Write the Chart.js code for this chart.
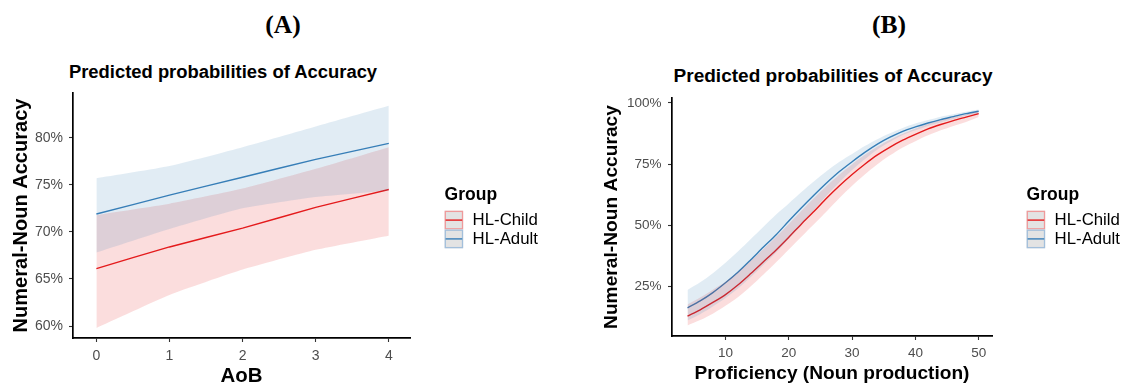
<!DOCTYPE html>
<html>
<head>
<meta charset="utf-8">
<script src="https://cdn.jsdelivr.net/npm/chart.js@4.4.1/dist/chart.umd.min.js"></script>
<style>
  html, body { margin: 0; padding: 0; background: #fff; }
  body { width: 1121px; height: 383px; overflow: hidden; position: relative; }
  canvas { position: absolute; top: 0; }
  .tag { position: absolute; font-family: 'Liberation Serif', 'Times New Roman', serif; font-weight: bold;
         line-height: 1; white-space: nowrap; transform: translate(-50%, -50%); color: #000; }
  .ttl { position: absolute; font-family: 'Liberation Sans', Arial, sans-serif; font-weight: bold;
         line-height: 1; white-space: nowrap; transform: translate(-50%, -50%); color: #000; }
</style>
</head>
<body>
<div class="tag" id="tagA" style="left:283px; top:25px; font-size:25.5px">(A)</div>
<div class="tag" id="tagB" style="left:889px; top:25px; font-size:25.5px">(B)</div>
<div class="ttl" id="titleA" style="left:223px; top:72px">Predicted probabilities of Accuracy</div>
<div class="ttl" id="titleB" style="left:833px; top:75.5px">Predicted probabilities of Accuracy</div>
<canvas id="chartA" width="560" height="400" style="left:0px"></canvas>
<canvas id="chartB" width="561" height="400" style="left:560px"></canvas>
<script>
// ---- Panel A: accuracy by AoB ----
const aobX = [0, 1, 2, 3, 4];
const childA   = [66.1, 68.4, 70.4, 72.6, 74.5];
const childALo = [59.8, 63.3, 66.0, 68.1, 69.6];
const childAHi = [71.8, 73.0, 74.6, 76.7, 79.0];
const adultA   = [71.9, 73.9, 75.8, 77.7, 79.4];
const adultALo = [67.8, 70.3, 72.5, 73.7, 74.4];
const adultAHi = [75.7, 77.0, 79.0, 81.2, 83.4];
const xTicksA = [0, 1, 2, 3, 4];
const yTicksA = [60, 65, 70, 75, 80];

// ---- Panel B: accuracy by proficiency (noun production) ----
const profX    = [4, 6, 8, 10, 12, 14, 16, 18, 20, 22, 24, 26, 28, 30, 32, 34, 36, 38, 40, 42, 44, 46, 48, 50];
const childB   = [13.0, 15.6, 18.6, 21.8, 25.8, 30.4, 35.2, 40.0, 45.2, 50.6, 55.8, 61.2, 66.2, 70.8, 75.0, 78.8, 82.0, 84.8, 87.2, 89.4, 91.2, 92.8, 94.2, 95.6];
const childBLo = [9.2, 11.4, 14.0, 17.2, 20.8, 25.2, 30.0, 35.0, 40.2, 45.4, 50.6, 55.8, 61.2, 66.2, 70.8, 75.0, 78.6, 81.8, 84.4, 86.8, 88.8, 90.6, 92.2, 94.2];
const childBHi = [17.8, 20.6, 23.8, 27.0, 31.0, 35.6, 40.4, 45.4, 50.6, 56.0, 61.2, 66.2, 70.8, 75.0, 78.8, 82.2, 85.0, 87.4, 89.6, 91.4, 92.9, 94.2, 95.3, 96.6];
const adultB   = [16.4, 19.2, 22.6, 26.6, 31.0, 36.0, 41.2, 46.2, 51.8, 57.2, 62.4, 67.4, 72.0, 76.0, 79.8, 83.2, 86.0, 88.4, 90.2, 91.8, 93.2, 94.4, 95.6, 96.6];
const adultBLo = [11.2, 13.8, 16.9, 20.4, 24.4, 29.0, 34.0, 39.0, 44.6, 50.5, 56.4, 62.2, 67.6, 72.6, 77.0, 81.0, 84.2, 86.9, 88.8, 90.6, 92.0, 93.4, 94.8, 95.8];
const adultBHi = [23.7, 26.8, 30.5, 34.8, 39.5, 44.5, 49.5, 54.5, 59.0, 63.6, 68.0, 72.2, 76.0, 79.2, 82.4, 85.2, 87.6, 89.8, 91.6, 93.0, 94.4, 95.4, 96.4, 97.3];
const xTicksB = [10, 20, 30, 40, 50];
const yTicksB = [25, 50, 75, 100];

const groupNames = ['HL-Child', 'HL-Adult'];
const FAMILY = "'Liberation Sans', Arial, sans-serif";

const RED = '#E41A1C', BLUE = '#377EB8';
const RED_BAND = 'rgba(228, 26, 28, 0.15)', BLUE_BAND = 'rgba(55, 126, 184, 0.15)';

// font size that makes a string span a given width
const measureCtx = document.createElement('canvas').getContext('2d');
function fitSize(text, width, weight, family) {
  measureCtx.font = `${weight} 100px ${family}`;
  return 100 * width / measureCtx.measureText(text).width;
}
document.getElementById('titleA').style.fontSize = fitSize('Predicted probabilities of Accuracy', 309, 'bold', FAMILY) + 'px';
document.getElementById('titleB').style.fontSize = fitSize('Predicted probabilities of Accuracy', 320, 'bold', FAMILY) + 'px';

const pts = (xs, ys) => xs.map((x, i) => ({ x, y: ys[i] }));

function bandSets(xs, hi, lo, fill) {
  return [
    { data: pts(xs, hi), borderWidth: 0, borderColor: 'transparent', backgroundColor: fill, fill: '+1', pointRadius: 0 },
    { data: pts(xs, lo), borderWidth: 0, borderColor: 'transparent', fill: false, pointRadius: 0 }
  ];
}

// Legend with the ribbon-style keys, drawn to the right of the plot area
const groupLegend = {
  id: 'groupLegend',
  afterDraw(chart, args, opts) {
    const { ctx, chartArea } = chart;
    const x0 = chartArea.right + opts.dx;
    const keyW = 18.6, keyH = 18.8;
    ctx.save();
    ctx.textBaseline = 'middle';
    ctx.textAlign = 'left';
    ctx.fillStyle = '#000';
    ctx.font = `bold 17.5px ${FAMILY}`;
    ctx.fillText('Group', x0, opts.titleY);
    const series = chart.data.datasets
      .filter(d => d.label)
      .sort((a, b) => groupNames.indexOf(a.label) - groupNames.indexOf(b.label));
    series.forEach((d, i) => {
      const y = opts.keyTop + i * keyH;
      ctx.fillStyle = '#e3e3e3';
      ctx.fillRect(x0, y, keyW, keyH);
      ctx.strokeStyle = d.keyEdge;
      ctx.lineWidth = 1.3;
      ctx.strokeRect(x0 + 0.7, y + 0.7, keyW - 1.4, keyH - 1.4);
      ctx.strokeStyle = d.borderColor;
      ctx.lineWidth = 1.4;
      ctx.beginPath();
      ctx.moveTo(x0 + 1, y + keyH / 2);
      ctx.lineTo(x0 + keyW - 1, y + keyH / 2);
      ctx.stroke();
      ctx.fillStyle = '#000';
      ctx.font = `16.8px ${FAMILY}`;
      ctx.fillText(d.label, x0 + 28, y + keyH / 2 + 0.5);
    });
    ctx.restore();
  }
};

function buildChart(id, cfg) {
  const yTitleSize = fitSize('Numeral-Noun Accuracy', cfg.yTitleWidth, 'bold', FAMILY);
  const xTitleSize = fitSize(cfg.xTitle, cfg.xTitleWidth, 'bold', FAMILY);
  const H = 400;
  return new Chart(document.getElementById(id), {
    type: 'line',
    data: {
      datasets: [
        ...bandSets(cfg.x, cfg.adultHi, cfg.adultLo, BLUE_BAND),
        ...bandSets(cfg.x, cfg.childHi, cfg.childLo, RED_BAND),
        { label: groupNames[1], data: pts(cfg.x, cfg.adult), borderColor: BLUE, keyEdge: '#a3bfdb',
          borderWidth: 1.4, pointRadius: 0, fill: false },
        { label: groupNames[0], data: pts(cfg.x, cfg.child), borderColor: RED, keyEdge: '#ef9a9b',
          borderWidth: 1.4, pointRadius: 0, fill: false }
      ].map(d => Object.assign({ tension: cfg.tension }, d))
    },
    options: {
      responsive: false,
      animation: false,
      events: [],
      layout: { padding: { left: 0, top: cfg.top, right: cfg.canvasW - cfg.right, bottom: 0 } },
      plugins: {
        legend: { display: false },
        tooltip: { enabled: false },
        groupLegend: { dx: 34.6, titleY: 195.5, keyTop: 210.7 }
      },
      scales: {
        x: {
          type: 'linear', min: cfg.xMin, max: cfg.xMax,
          afterBuildTicks: s => { s.ticks = cfg.xTicks.map(v => ({ value: v })); },
          afterFit: s => { s.height = H - cfg.bottom; },
          ticks: { color: '#4d4d4d', font: { family: FAMILY, size: cfg.tickSize }, padding: cfg.xTickPad, maxRotation: 0 },
          grid: { drawOnChartArea: false, drawTicks: true, tickLength: 4, tickColor: '#333', tickWidth: 1.1 },
          border: { display: true, color: '#000', width: 1.7 },
          title: { display: true, text: cfg.xTitle, color: '#000',
                   font: { family: FAMILY, size: xTitleSize, weight: 'bold' }, padding: { top: 0, bottom: cfg.xTitlePad } }
        },
        y: {
          type: 'linear', min: cfg.yMin, max: cfg.yMax,
          afterBuildTicks: s => { s.ticks = cfg.yTicks.map(v => ({ value: v })); },
          afterFit: s => { s.width = cfg.left; },
          ticks: { color: '#4d4d4d', font: { family: FAMILY, size: cfg.tickSize }, padding: cfg.yTickPad,
                   callback: v => v + '%' },
          grid: { drawOnChartArea: false, drawTicks: true, tickLength: 4, tickColor: '#333', tickWidth: 1.1 },
          border: { display: true, color: '#000', width: 1.7 },
          title: { display: true, text: 'Numeral-Noun Accuracy', color: '#000',
                   font: { family: FAMILY, size: yTitleSize, weight: 'bold' }, padding: { top: cfg.yTitlePad, bottom: 0 } }
        }
      }
    },
    plugins: [groupLegend]
  });
}

buildChart('chartA', {
  x: aobX, child: childA, childLo: childALo, childHi: childAHi, adult: adultA, adultLo: adultALo, adultHi: adultAHi,
  xTicks: xTicksA, yTicks: yTicksA, xMin: -0.32, xMax: 4.29, yMin: 58.73, yMax: 84.75,
  canvasW: 560, left: 73, top: 93, right: 410, bottom: 338,
  tickSize: 14, xTickPad: 6, yTickPad: 6,
  xTitle: 'AoB', xTitleWidth: 42, xTitlePad: 11, yTitleWidth: 234, yTitlePad: 9, tension: 0.15
});

buildChart('chartB', {
  x: profX, child: childB, childLo: childBLo, childHi: childBHi, adult: adultB, adultLo: adultBLo, adultHi: adultBHi,
  xTicks: xTicksB, yTicks: yTicksB, xMin: 1.55, xMax: 52.1, yMin: 4.9, yMax: 102.0,
  canvasW: 561, left: 112, top: 98, right: 432, bottom: 336,
  tickSize: 13.5, xTickPad: 5, yTickPad: 6.5,
  xTitle: 'Proficiency (Noun production)', xTitleWidth: 275, xTitlePad: 15, yTitleWidth: 224, yTitlePad: 40.5, tension: 0.3
});
</script>
</body>
</html>
